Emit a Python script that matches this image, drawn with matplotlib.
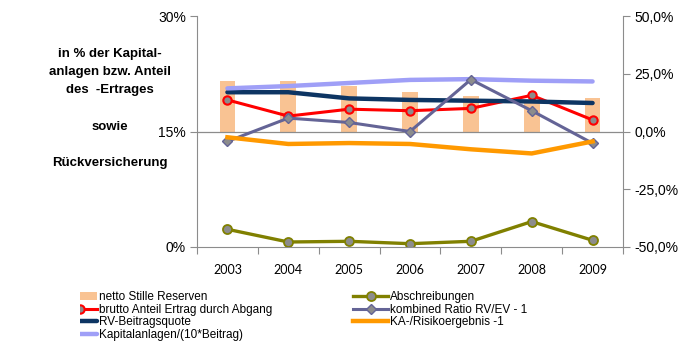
import matplotlib
matplotlib.use("Agg")
import matplotlib.pyplot as plt
from matplotlib.transforms import Bbox, TransformedBbox

plt.rcParams["font.family"] = ["Liberation Sans", "DejaVu Sans"]

YEARS = ["2003", "2004", "2005", "2006", "2007", "2008", "2009"]

# right-hand scale (%)
stille_reserven = [21.9, 21.9, 19.5, 17.3, 15.2, 13.2, 14.4]
combined_ratio = [-4.3, 5.8, 3.9, 0.0, 22.5, 9.0, -5.1]
ka_risiko = [-2.5, -5.4, -5.0, -5.4, -7.7, -9.5, -4.3]

# left-hand scale (%)
abschreibungen = [2.3, 0.65, 0.74, 0.43, 0.74, 3.3, 0.87]
brutto_abgang = [19.1, 17.0, 17.9, 17.7, 18.0, 19.7, 16.5]
rv_quote = [20.1, 20.1, 19.3, 19.1, 19.0, 18.9, 18.7]
kapitalanlagen = [20.6, 20.9, 21.3, 21.7, 21.8, 21.6, 21.5]

SIDE_TEXT = ["in % der Kapital-", "anlagen bzw. Anteil", "des  -Ertrages",
             "sowie", "Rückversicherung"]

W, H = 686, 358
GRAY = "#8c8c8c"

fig = plt.figure(figsize=(W / 100, H / 100), dpi=100)
ax = fig.add_axes([197 / W, 1 - 247 / H, 426 / W, 231 / H])
ax_bar = ax.twinx()
ax2 = ax.twinx()
ax_bar.set_zorder(0)
ax.set_zorder(1)
ax2.set_zorder(2)
for a in (ax, ax_bar, ax2):
    a.patch.set_visible(False)

x = list(range(len(YEARS)))

# bars sit behind everything, on the secondary scale
bars = ax_bar.bar(x, stille_reserven, width=0.26, color="#f9c393",
                  label="netto Stille Reserven")
ax_bar.set_ylim(-50, 50)
ax_bar.axis("off")

ax.axhline(15, color=GRAY, lw=0.9, zorder=0)
l_brutto, = ax.plot(x, brutto_abgang, color="#ff0000", lw=2.2, marker="o",
                    ms=6, mfc="#8c8c8c", mec="#ff0000", mew=1.5,
                    label="brutto Anteil Ertrag durch Abgang")
l_rv, = ax.plot(x, rv_quote, color="#0d3563", lw=3.2,
                label="RV-Beitragsquote", solid_capstyle="round")
l_ka10, = ax.plot(x, kapitalanlagen, color="#9f9ff7", lw=3.2,
                  label="Kapitalanlagen/(10*Beitrag)", solid_capstyle="round")
l_absch, = ax.plot(x, abschreibungen, color="#808000", lw=2.4, marker="o",
                   ms=6.5, mfc="#8c8c8c", mec="#808000", mew=1.3,
                   label="Abschreibungen")
ax.set_ylim(0, 30)
ax.set_xlim(-0.5, 6.5)

l_comb, = ax2.plot(x, combined_ratio, color="#646496", lw=2.2, marker="D",
                   ms=5, mfc="#8c8c8c", mec="#646496", mew=1.0,
                   label="kombined Ratio RV/EV - 1")
l_kar, = ax2.plot(x, ka_risiko, color="#ff9900", lw=3.2,
                  label="KA-/Risikoergebnis -1")
ax2.set_ylim(-50, 50)

# axes styling
for s in ("top", "right"):
    ax.spines[s].set_visible(False)
for s in ("top", "left", "bottom"):
    ax2.spines[s].set_visible(False)
for s in ("left", "bottom"):
    ax.spines[s].set_color(GRAY)
ax2.spines["right"].set_color(GRAY)

ax.set_yticks([0, 15, 30])
ax.set_yticklabels([f"{v}%" for v in [0, 15, 30]], fontsize=10)
ax.tick_params(axis="y", length=5, color=GRAY, pad=3)
ax2.set_yticks([-50, -25, 0, 25, 50])
ax2.set_yticklabels([f"{v:.1f}%".replace(".", ",") for v in [-50, -25, 0, 25, 50]],
                    fontsize=10)
ax2.tick_params(axis="y", length=5, color=GRAY, pad=3)

ax.set_xticks([i - 0.5 for i in range(len(YEARS) + 1)])
ax.set_xticklabels([])
ax.tick_params(axis="x", which="major", length=5, color=GRAY)
ax.set_xticks(x, minor=True)
ax.set_xticklabels(YEARS, minor=True, fontsize=9, family=["Lato", "DejaVu Sans"])
ax.tick_params(axis="x", which="minor", length=0, pad=12)

# axis caption on the left, one line per text
for txt, y in zip(SIDE_TEXT, [54, 72, 90, 127, 163]):
    fig.text(110 / W, 1 - y / H, txt, ha="center", va="center",
             fontsize=9.5, fontweight="bold")

leg_kw = dict(frameon=False, fontsize=8.5, handlelength=3.0, handletextpad=0.1,
              borderpad=0, borderaxespad=0, labelspacing=0.06, loc="upper left")
leg1 = fig.legend([bars, l_brutto, l_rv, l_ka10],
                  [h.get_label() for h in (bars, l_brutto, l_rv, l_ka10)],
                  bbox_to_anchor=(62 / W, 1 - 291 / H), **leg_kw)
leg2 = fig.legend([l_absch, l_comb, l_kar],
                  [h.get_label() for h in (l_absch, l_comb, l_kar)],
                  bbox_to_anchor=(353 / W, 1 - 291 / H), **leg_kw)

# left legend column is cut at the chart edge
clip = TransformedBbox(Bbox([[80 / W, 0], [1, 1]]), fig.transFigure)
for h in leg1.legend_handles:
    h.set_clip_box(clip)
    h.set_clip_on(True)

fig.savefig("out.png", dpi=100)
